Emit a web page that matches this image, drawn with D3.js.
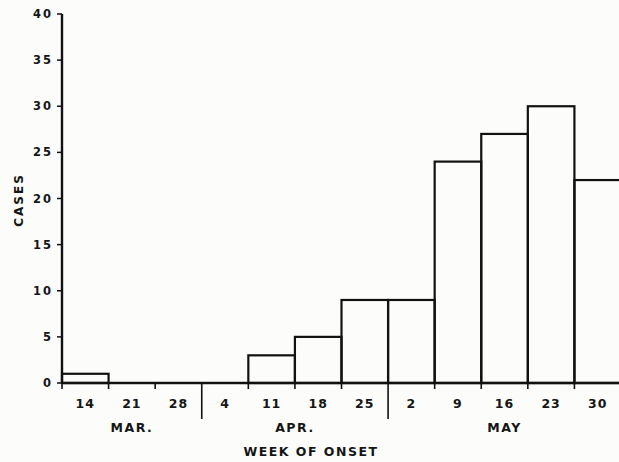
<!DOCTYPE html>
<html>
<head>
<meta charset="utf-8">
<script src="https://cdn.jsdelivr.net/npm/d3@7"></script>
<style>
  body { margin: 0; background: #fcfcfb; }
  text { font-family: "DejaVu Sans", sans-serif; font-weight: bold; fill: #151515; }
</style>
</head>
<body>
<div id="chart"></div>
<script>
// weekly case counts, week of onset
var weeks = ["14", "21", "28", "4", "11", "18", "25", "2", "9", "16", "23", "30"];
var cases = [1, 0, 0, 0, 3, 5, 9, 9, 24, 27, 30, 22];
var months = ["MAR.", "APR.", "MAY"];
var monthStart = [0, 3, 7];   // first week index of each month
var yTicks = [0, 5, 10, 15, 20, 25, 30, 35, 40];

var width = 619;
var height = 462;

var svg = d3.select("#chart").append("svg")
    .attr("width", width)
    .attr("height", height);

// last bin runs just past the right edge of the page, as in the scan
var x = d3.scaleLinear()
    .domain([0, weeks.length])
    .range([62, 621]);

var y = d3.scaleLinear()
    .domain([0, 40])
    .range([383, 14]);

// bars (outline only)
svg.selectAll("rect.bar")
    .data(cases)
    .enter()
    .append("rect")
    .attr("class", "bar")
    .attr("x", function(d, i) { return x(i); })
    .attr("y", function(d) { return y(d); })
    .attr("width", function(d, i) { return x(i + 1) - x(i); })
    .attr("height", function(d) { return y(0) - y(d); })
    .attr("fill", "none")
    .attr("stroke", "#111")
    .attr("stroke-width", 2.2)
    .style("display", function(d) { return d > 0 ? null : "none"; });

// y axis
var yAxis = svg.append("g");
yAxis.append("line")
    .attr("x1", x(0)).attr("x2", x(0))
    .attr("y1", y(40)).attr("y2", y(0))
    .attr("stroke", "#111").attr("stroke-width", 2.4);
yAxis.selectAll("line.tick")
    .data(yTicks)
    .enter()
    .append("line")
    .attr("class", "tick")
    .attr("x1", x(0) - 5).attr("x2", x(0))
    .attr("y1", function(d) { return y(d); })
    .attr("y2", function(d) { return y(d); })
    .attr("stroke", "#111").attr("stroke-width", 1.5);
yAxis.selectAll("text")
    .data(yTicks)
    .enter()
    .append("text")
    .attr("x", 53)
    .attr("y", function(d) { return y(d) + 4; })
    .attr("text-anchor", "end")
    .style("font-size", "11.5px")
    .style("letter-spacing", "2px")
    .text(function(d) { return d; });

svg.append("text")
    .attr("transform", "translate(23,200) rotate(-90)")
    .attr("text-anchor", "middle")
    .style("font-size", "12px")
    .style("letter-spacing", "2px")
    .text("CASES");

// x axis
var xAxis = svg.append("g");
xAxis.append("line")
    .attr("x1", x(0)).attr("x2", width)
    .attr("y1", y(0)).attr("y2", y(0))
    .attr("stroke", "#111").attr("stroke-width", 2.4);
xAxis.selectAll("line.tick")
    .data(d3.range(weeks.length))
    .enter()
    .append("line")
    .attr("class", "tick")
    .attr("x1", function(d) { return x(d); })
    .attr("x2", function(d) { return x(d); })
    .attr("y1", y(0))
    .attr("y2", function(d) {
      return monthStart.indexOf(d) > 0 ? 419 : y(0) + 6;
    })
    .attr("stroke", "#111").attr("stroke-width", 1.6);

xAxis.selectAll("text.week")
    .data(weeks)
    .enter()
    .append("text")
    .attr("class", "week")
    .attr("x", function(d, i) { return x(i + 0.5); })
    .attr("y", 408)
    .attr("text-anchor", "middle")
    .style("font-size", "12.5px")
    .style("letter-spacing", "1px")
    .text(function(d) { return d; });

xAxis.selectAll("text.month")
    .data(months)
    .enter()
    .append("text")
    .attr("class", "month")
    .attr("x", function(d, i) {
      var end = i < months.length - 1 ? monthStart[i + 1] : weeks.length;
      return x((monthStart[i] + end) / 2);
    })
    .attr("y", 432)
    .attr("text-anchor", "middle")
    .style("font-size", "12.5px")
    .style("letter-spacing", "1.5px")
    .text(function(d) { return d; });

svg.append("text")
    .attr("x", 311)
    .attr("y", 456)
    .attr("text-anchor", "middle")
    .style("font-size", "12.5px")
    .style("letter-spacing", "1.5px")
    .text("WEEK OF ONSET");
</script>
</body>
</html>
